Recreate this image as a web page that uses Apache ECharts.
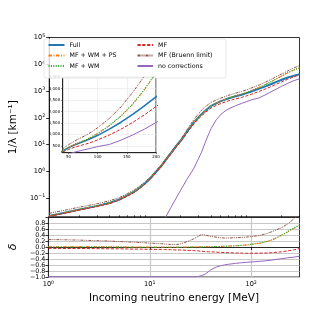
<!DOCTYPE html>
<html><head><meta charset="utf-8">
<script src="https://cdn.jsdelivr.net/npm/echarts@6/dist/echarts.min.js"></script>
<style>html,body{margin:0;padding:0;background:#fff}#c{width:333px;height:312px}</style>
</head><body><div id="c"></div>
<script>
// ---- data ----
const energy = [1,1.5,2,3,4,5,6,7,8,9,10,11.5,13,14,16,18.5,20,23,27,30,32,35,38,40,45,50,55,60,70,80,90,100,120,140,160,180,200,230,260,300];
const full = [0.022,0.030,0.038,0.052,0.068,0.092,0.13,0.18,0.26,0.38,0.55,1.0,1.7,2.5,4.8,10,14,30,68,105,135,185,240,280,350,420,480,540,640,730,840,960,1230,1535,1880,2250,2640,3200,3700,4250];
const noCorrections = [null,null,null,null,null,null,null,null,null,null,null,null,0.008,0.018,0.045,0.12,0.2,0.5,1.3,3.0,5.0,12,26,40,85,135,180,220,285,345,405,470,560,750,975,1230,1520,1950,2400,2900];
const deltaMfWmPs = [0.01,0.01,0.01,0.01,0.005,0.005,0,0,0,0,-0.005,-0.005,-0.005,-0.005,-0.005,-0.005,-0.005,0,0.005,0.005,0.005,0.01,0.01,0.015,0.015,0.02,0.025,0.03,0.04,0.05,0.065,0.085,0.12,0.17,0.23,0.31,0.39,0.50,0.60,0.72];
const deltaMfWm = [0,0,0,0,0,-0.005,-0.005,-0.01,-0.01,-0.01,-0.01,-0.01,-0.01,-0.01,-0.01,-0.01,-0.01,-0.005,0,0,0,0.005,0.01,0.01,0.015,0.02,0.025,0.03,0.04,0.055,0.07,0.09,0.13,0.18,0.24,0.32,0.40,0.52,0.62,0.74];
const deltaMf = [-0.045,-0.05,-0.05,-0.055,-0.06,-0.06,-0.065,-0.07,-0.07,-0.075,-0.075,-0.08,-0.08,-0.085,-0.09,-0.1,-0.1,-0.11,-0.12,-0.13,-0.14,-0.15,-0.16,-0.16,-0.17,-0.18,-0.185,-0.19,-0.2,-0.205,-0.21,-0.21,-0.205,-0.2,-0.19,-0.175,-0.16,-0.13,-0.1,-0.05];
const deltaBruenn = [0.25,0.24,0.23,0.21,0.20,0.18,0.17,0.16,0.15,0.14,0.13,0.12,0.11,0.10,0.085,0.085,0.10,0.17,0.27,0.35,0.41,0.40,0.37,0.35,0.33,0.31,0.30,0.30,0.31,0.32,0.33,0.35,0.38,0.44,0.51,0.58,0.65,0.77,0.92,1.1];
const deltaNoCorrections = [-0.995,-0.995,-0.995,-0.995,-0.995,-0.995,-0.995,-0.995,-0.995,-0.995,-0.995,-0.995,-0.995,-0.995,-0.995,-0.995,-0.995,-0.995,-0.995,-0.985,-0.96,-0.91,-0.82,-0.76,-0.67,-0.625,-0.595,-0.575,-0.545,-0.525,-0.51,-0.50,-0.48,-0.46,-0.435,-0.41,-0.39,-0.36,-0.34,-0.31];
const mainYTicks = [0.1,1,10,100,1000,10000,100000];
const xMajorTicks = [1,10,100];
const xMinorTicks = [2,3,4,5,6,7,8,9,20,30,40,50,60,70,80,90,200,300];
const insetXTicks = [50,100,150,200];
const insetYTicks = [500,1000,1500,2000,2500,3000,3500];

// ---- build ----
const FF = 'DejaVu Sans';
const pairs = ys => energy.map((e,i) => [e, ys[i]]);
const fromDelta = d => full.map((f,i) => f*(1+d[i]));

const S = {
  'Full': {color:'#1f77b4', width:2, type:'solid'},
  'MF + WM + PS': {color:'#ff7f0e', width:1, type:[3.5,1.5,1,1.5]},
  'MF + WM': {color:'#2ca02c', width:1.1, type:[1,1.4]},
  'MF': {color:'#d62728', width:1, type:[3.2,1.6]},
  'MF (Bruenn limit)': {color:'#8c564b', width:1, type:[3,1,1,1,1,1]},
  'no corrections': {color:'#9467bd', width:1, type:'solid'}
};
const topData = {
  'Full': full,
  'MF + WM + PS': fromDelta(deltaMfWmPs),
  'MF + WM': fromDelta(deltaMfWm),
  'MF': fromDelta(deltaMf),
  'MF (Bruenn limit)': fromDelta(deltaBruenn),
  'no corrections': noCorrections
};
const botData = {
  'MF + WM + PS': deltaMfWmPs,
  'MF + WM': deltaMfWm,
  'MF': deltaMf,
  'MF (Bruenn limit)': deltaBruenn,
  'no corrections': deltaNoCorrections
};
function mk(name, ys, xi, yi, wScale) {
  const s = S[name];
  return {type:'line', name, xAxisIndex:xi, yAxisIndex:yi, data:pairs(ys), symbol:'none',
    clip:true, animation:false, connectNulls:false,
    lineStyle:{color:s.color, width:s.width*(wScale||1), type:s.type}, itemStyle:{color:s.color}};
}
const series = [];
Object.keys(topData).forEach(n => series.push(mk(n, topData[n], 0, 0)));
Object.keys(topData).forEach(n => series.push(mk(n, topData[n], 2, 2, n==='Full'?0.8:1)));
Object.keys(botData).forEach(n => series.push(mk(n, botData[n], 1, 1)));

const supFmt = v => { const p = Math.round(Math.log10(v)); return '{b|10}{s|' + (p<0 ? '\u2212'+(-p) : p) + '}'; };
const rich = {
  b:{fontSize:6.6, fontFamily:FF, color:'#000', lineHeight:9},
  s:{fontSize:4.7, fontFamily:FF, color:'#000', lineHeight:5, verticalAlign:'top'}
};
const blk = {color:'#000', width:0.8};
const legItem = {color:'rgba(0,0,0,0)', opacity:0, borderWidth:0};

const option = {
  animation:false,
  backgroundColor:'#fff',
  grid:[
    {left:41, top:37.5, width:258.5, height:179.5, show:true, borderColor:'#000', borderWidth:0.8, backgroundColor:'transparent'},
    {left:41, top:217, width:258.5, height:60, show:true, borderColor:'#000', borderWidth:0.8, backgroundColor:'transparent'},
    {left:62.7, top:77.3, width:93.3, height:75.4, show:true, borderColor:'#000', borderWidth:0.8, backgroundColor:'#fff'}
  ],
  xAxis:[
    {type:'log', gridIndex:0, min:1, max:300, axisLine:{lineStyle:blk}, axisTick:{show:false}, axisLabel:{show:false}, splitLine:{show:false}},
    {type:'log', gridIndex:1, min:1, max:300, axisLine:{lineStyle:blk},
      axisTick:{customValues:xMajorTicks, length:3, lineStyle:blk},
      axisLabel:{customValues:xMajorTicks, formatter:supFmt, rich, margin:3},
      splitLine:{show:true, customValues:xMajorTicks, lineStyle:{color:'#c8c8c8', width:1.2}},
      name:'Incoming neutrino energy [MeV]', nameLocation:'middle', nameGap:16,
      nameTextStyle:{fontSize:10.5, fontFamily:FF, color:'#000'}},
    {type:'value', gridIndex:2, min:40, max:200, splitNumber:3, axisLine:{lineStyle:{color:'#000',width:0.6}},
      axisTick:{customValues:insetXTicks, length:1.5, lineStyle:{color:'#000',width:0.5}},
      axisLabel:{customValues:insetXTicks, fontSize:4, fontFamily:FF, color:'#000', margin:2.5},
      splitLine:{show:true, lineStyle:{color:'#e6e6e6', width:0.6}}},
    {type:'log', gridIndex:1, min:1, max:300, axisLine:{show:false},
      axisTick:{customValues:xMinorTicks, length:1.8, lineStyle:{color:'#000', width:0.6}},
      axisLabel:{show:false}, splitLine:{show:false}}
  ],
  yAxis:[
    {type:'log', gridIndex:0, min:0.02, max:100000, axisLine:{lineStyle:blk},
      axisTick:{customValues:mainYTicks, length:3, lineStyle:blk},
      axisLabel:{customValues:mainYTicks, formatter:supFmt, rich, margin:4},
      splitLine:{show:false},
      name:'1/\u03bb [km\u207b\u00b9]', nameLocation:'middle', nameGap:25,
      nameTextStyle:{fontSize:10.5, fontFamily:FF, color:'#000'}},
    {type:'value', gridIndex:1, min:-1, max:1, interval:0.2, axisLine:{lineStyle:blk},
      axisTick:{length:3, lineStyle:blk},
      axisLabel:{fontSize:6.4, fontFamily:FF, color:'#000', margin:3,
        formatter:v => { if (v > 0.99) return ''; if (Math.abs(v) < 1e-9) return '0.0'; return (v<0?'\u2212':'') + Math.abs(v).toFixed(1); }},
      splitLine:{show:true, lineStyle:{color:'#c8c8c8', width:1}},
      name:'\u03b4', nameLocation:'middle', nameGap:27,
      nameTextStyle:{fontSize:11, fontFamily:FF, fontStyle:'italic', color:'#000'}},
    {type:'value', gridIndex:2, min:200, max:3500, axisLine:{lineStyle:{color:'#000',width:0.6}},
      axisTick:{customValues:insetYTicks, length:1.5, lineStyle:{color:'#000',width:0.5}},
      axisLabel:{customValues:insetYTicks, fontSize:4, fontFamily:FF, color:'#000', margin:2.5},
      splitLine:{show:true, lineStyle:{color:'#e6e6e6', width:0.6}}}
  ],
  legend:[
    {orient:'vertical', left:47.5, top:42, itemWidth:16, itemHeight:7, itemGap:4.5, padding:0, itemStyle:legItem,
      data:['Full','MF + WM + PS','MF + WM'], textStyle:{fontSize:6.3, fontFamily:FF, color:'#000'}, selectedMode:false},
    {orient:'vertical', left:136.5, top:42, itemWidth:15.5, itemHeight:7, itemGap:4.5, padding:0, itemStyle:legItem,
      data:['MF','MF (Bruenn limit)','no corrections'], textStyle:{fontSize:6.3, fontFamily:FF, color:'#000'}, selectedMode:false}
  ],
  graphic:[
    {type:'rect', shape:{x:44, y:39, width:182, height:39, r:2}, style:{fill:'rgba(255,255,255,0.8)', stroke:'#e2e2e2', lineWidth:0.8}, z:3, silent:true}
  ],
  series
};
const chart = echarts.init(document.getElementById('c'), null, {renderer:'canvas'});
chart.setOption(option);
</script></body></html>
